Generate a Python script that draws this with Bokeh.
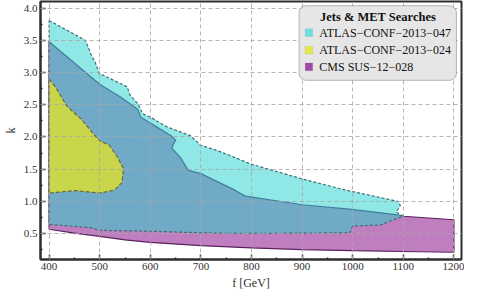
from bokeh.plotting import figure
from bokeh.models import FixedTicker, Range1d, BoxAnnotation, Label, PrintfTickFormatter
from bokeh.embed import file_html
from bokeh.resources import INLINE

# ---- data ----
# CMS SUS-12-028 region: upper boundary (solid) and lower boundary (solid)
cms_top_f = [400, 500, 541, 575, 581, 597, 641, 650, 645, 643, 660, 675, 700, 769, 788, 900, 998, 1088, 1100, 1200]
cms_top_k = [3.48, 2.82, 2.62, 2.43, 2.31, 2.23, 2.02, 1.95, 1.88, 1.82, 1.675, 1.48, 1.43, 1.165, 1.08, 0.946, 0.873, 0.79, 0.767, 0.713]
cms_bot_f = [400, 450, 500, 550, 600, 700, 800, 900, 1000, 1100, 1200]
cms_bot_k = [0.565, 0.505, 0.455, 0.40, 0.36, 0.31, 0.275, 0.25, 0.232, 0.219, 0.208]

# ATLAS-CONF-2013-047 region (dashed)
a047_top_f = [400, 472, 483, 491, 499, 554, 560, 575, 585, 604, 632, 679, 700, 735, 769, 798, 901, 991, 1091, 1094, 1086, 1100]
a047_top_k = [3.81, 3.50, 3.28, 3.16, 2.99, 2.78, 2.65, 2.52, 2.36, 2.29, 2.16, 2.02, 1.87, 1.78, 1.675, 1.58, 1.345, 1.165, 0.996, 0.93, 0.83, 0.77]
a047_bot_f = [1100, 1054, 1000, 995, 988, 800, 769, 700, 600, 500, 482, 400]
a047_bot_k = [0.77, 0.63, 0.615, 0.52, 0.51, 0.50, 0.50, 0.51, 0.535, 0.548, 0.59, 0.64]

# ATLAS-CONF-2013-024 region (dashed closed contour)
a024_f = [400, 413, 435, 463, 494, 500, 519, 534, 547, 544, 529, 500, 451, 400]
a024_k = [2.90, 2.77, 2.48, 2.28, 1.99, 1.94, 1.87, 1.70, 1.505, 1.29, 1.175, 1.127, 1.165, 1.127]

x_ticks = [400, 500, 600, 700, 800, 900, 1000, 1100, 1200]
x_minor = [450, 550, 650, 750, 850, 950, 1050, 1150]
y_ticks = [0.5, 1.0, 1.5, 2.0, 2.5, 3.0, 3.5, 4.0]
y_minor = [0.25, 0.75, 1.25, 1.75, 2.25, 2.75, 3.25, 3.75]

legend_title = "Jets & MET Searches"
legend_names = ["ATLAS\u2212CONF\u22122013\u2212047", "ATLAS\u2212CONF\u22122013\u2212024", "CMS SUS\u221212\u2212028"]
legend_colors = ["#6fe0e0", "#e4e84a", "#a447a4"]

SERIF = "Liberation Serif"

p = figure(width=464, height=292, output_backend="svg", toolbar_location=None,
           x_range=Range1d(383, 1215), y_range=Range1d(0.095, 4.105),
           min_border_left=0, min_border_right=3, min_border_top=1, min_border_bottom=0)
p.background_fill_color = "white"
p.border_fill_color = "white"
p.outline_line_color = "#2e2e2e"
p.outline_line_width = 2

# magenta (CMS)
p.patch(cms_top_f + cms_bot_f[::-1], cms_top_k + cms_bot_k[::-1],
        fill_color="#bf7ebf", fill_alpha=1.0, line_color="#5a2160", line_width=1.2)
# cyan (ATLAS-047), translucent so that overlap appears blue
p.patch(a047_top_f + a047_bot_f, a047_top_k + a047_bot_k,
        fill_color="#28d3cf", fill_alpha=0.52, line_color="#3a6f76", line_width=1.2, line_dash="3 2")
# yellow (ATLAS-024)
p.patch(a024_f, a024_k, fill_color="#c9d54b", fill_alpha=1.0,
        line_color="#6e6a2e", line_width=1.2, line_dash="4 2")

# grid above fills
for g in (p.xgrid, p.ygrid):
    g.level = "annotation"
    g.grid_line_color = "#a8a8a8"
    g.grid_line_alpha = 0.85
    g.grid_line_dash = "4 3"
    g.grid_line_width = 1
p.xgrid.ticker = FixedTicker(ticks=x_ticks)
p.ygrid.ticker = FixedTicker(ticks=y_ticks)

p.xaxis.ticker = FixedTicker(ticks=x_ticks, minor_ticks=x_minor)
p.yaxis.ticker = FixedTicker(ticks=y_ticks, minor_ticks=y_minor)
p.yaxis.formatter = PrintfTickFormatter(format="%.1f")
p.xaxis.axis_label = "f [GeV]"
p.yaxis.axis_label = "k"
for ax in (p.xaxis, p.yaxis):
    ax.axis_line_color = "#2e2e2e"
    ax.axis_line_width = 2
    ax.major_tick_in = 5
    ax.major_tick_out = 0
    ax.minor_tick_in = 2
    ax.minor_tick_out = 0
    ax.major_tick_line_color = "#2e2e2e"
    ax.major_tick_line_width = 1.5
    ax.minor_tick_line_color = "#2e2e2e"
    ax.minor_tick_line_width = 1.5
    ax.major_label_text_font = SERIF
    ax.major_label_text_font_size = "11px"
    ax.major_label_text_color = "#333333"
    ax.axis_label_text_font = SERIF
    ax.axis_label_text_font_size = "12px"
    ax.axis_label_text_font_style = "normal"
    ax.axis_label_text_color = "#333333"
    ax.major_label_standoff = 3
    ax.axis_label_standoff = 3

# legend (manual)
box = BoxAnnotation(left=894, right=1205, bottom=2.88, top=4.04,
                    fill_color="#e6e6e6", fill_alpha=1.0, line_color="#222222",
                    line_width=1, border_radius=7, level="overlay")
p.add_layout(box)
p.add_layout(Label(x=1050, y=3.86, text=legend_title, text_font=SERIF, text_font_size="12.5px",
                   text_font_style="bold", text_align="center", text_baseline="middle",
                   text_color="#111111", level="overlay"))
row_k = [3.62, 3.35, 3.09]
for name, col, yk in zip(legend_names, legend_colors, row_k):
    p.add_layout(BoxAnnotation(left=906, right=921, bottom=yk - 0.06, top=yk + 0.06,
                               fill_color=col, fill_alpha=1.0, line_color="#888888",
                               line_width=0.5, level="overlay"))
    p.add_layout(Label(x=934, y=yk, text=name, text_font=SERIF, text_font_size="12px",
                       text_align="left", text_baseline="middle", text_color="#111111",
                       level="overlay"))

open("out.html", "w").write(file_html(p, INLINE))
